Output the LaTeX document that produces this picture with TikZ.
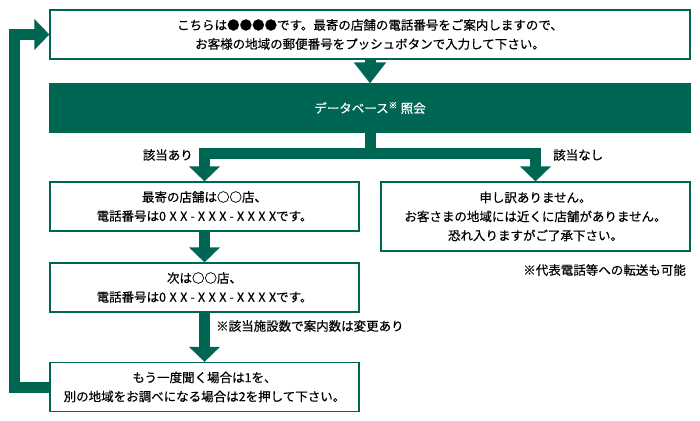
\documentclass[tikz,border=0pt]{standalone}
\usepackage{fontspec}
\setmainfont{Noto Sans CJK JP}[FakeBold=0.4]
\usetikzlibrary{arrows.meta}
\definecolor{kgreen}{HTML}{006654}
\newcommand\telno{{\addfontfeature{LetterSpace=28}0XX-XXX-XXXX}}

\begin{document}
\begin{tikzpicture}[x=1pt,y=-1pt,
                    font=\fontsize{12.5pt}{19pt}\selectfont,
                    flow/.style={draw=kgreen,line width=11pt,-{Triangle[length=15pt,width=30pt]}},
                    bar/.style={draw=kgreen,line width=11pt},
                    box node/.style={draw=kgreen,line width=1.2pt,fill=white,align=center,inner sep=0pt,minimum width=309pt,minimum height=49pt},
                    note/.style={inner sep=0pt}]
\useasboundingbox (0,0) rectangle (700,420);

\node[box node,minimum width=640pt] (intro) at (370,34.5)
  {こちらは●●●●です。最寄の店舗の電話番号をご案内しますので、\\お客様の地域の郵便番号をプッシュボタンで入力して下さい。};
\node[box node,fill=kgreen,minimum width=640pt,minimum height=48pt,text=white] (db) at (370,108)
  {データベース\textsuperscript{※} 照会};
\node[box node] (hit) at (204.5,206.5)
  {最寄の店舗は○○店、\\電話番号は\telno です。};
\node[box node,minimum height=69pt] (miss) at (535.5,216.5)
  {申し訳ありません。\\お客さまの地域には近くに店舗がありません。\\恐れ入りますがご了承下さい。};
\node[box node] (next) at (204.5,287.5)
  {次は○○店、\\電話番号は\telno です。};
\node[box node] (again) at (204.5,387)
  {もう一度聞く場合は1を、\\別の地域をお調べになる場合は2を押して下さい。};

\node[note,anchor=east] (yes) at (193,155) {該当あり};
\node[note,anchor=west] (no) at (553,155) {該当なし};
\node[note,anchor=east] (fwd) at (686,270) {※代表電話等への転送も可能};
\node[note,anchor=west] (count) at (216,326) {※該当施設数で案内数は変更あり};

\coordinate (split) at (370,153);

\path (intro) edge[flow,-{Triangle[length=21pt,width=31pt]}] (db)
      (hit) edge[flow] (next)
      (next) edge[flow] (again);
\draw[bar] (db.south) -- (split);
\draw[flow] (split) -| (hit.north);
\draw[flow] (split) -| (miss.north);
\draw[flow] (again.west) -- ++(-34.5,0) |- (intro.west);

\end{tikzpicture}
\end{document}
